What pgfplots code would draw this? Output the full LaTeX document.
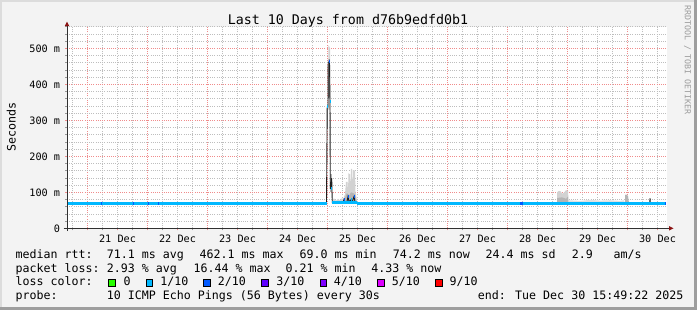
\documentclass[border=0pt]{standalone}
\usepackage{fontspec}
\setmainfont{DejaVu Sans Mono}
\usepackage{pgfplots}
\pgfplotsset{compat=1.18}
\definecolor{bgc}{HTML}{F3F3F3}
\definecolor{shadeA}{HTML}{DCDCDC}
\definecolor{shadeB}{HTML}{9E9E9E}
\definecolor{mgrid}{HTML}{F08C8C}
\definecolor{mingrid}{HTML}{BEBEBE}
\definecolor{l0}{HTML}{26FF00}
\definecolor{l1}{HTML}{00B8FF}
\definecolor{l2}{HTML}{0059FF}
\definecolor{l3}{HTML}{5E00FF}
\definecolor{l4}{HTML}{7E00FF}
\definecolor{l5}{HTML}{DD00FF}
\definecolor{l9}{HTML}{FF0000}
\definecolor{arrowc}{HTML}{8B1414}
\definecolor{axisc}{HTML}{303030}
\definecolor{smL}{HTML}{D2D2D2}
\definecolor{smM}{HTML}{B4B4B4}
\definecolor{smD}{HTML}{8C8C8C}
\definecolor{smX}{HTML}{E0E0E0}
\definecolor{wmark}{HTML}{9C9C9C}
\newcommand{\legf}{\fontsize{11.63bp}{14bp}\selectfont}
\newcommand{\axf}{\fontsize{10.2bp}{12bp}\selectfont}
\begin{document}
\begin{tikzpicture}[x=1bp,y=1bp]
\fill[bgc] (0,0) rectangle (697,310);
\fill[shadeA] (0,0) rectangle (2,310);
\fill[shadeA] (0,308) rectangle (697,310);
\fill[shadeB] (693.5,0) rectangle (697,310);
\fill[shadeB] (0,0) rectangle (697,3.3);
\useasboundingbox (0,0) rectangle (697,310);

\begin{axis}[
  at={(67bp,81.7bp)}, anchor=south west,
  scale only axis, width=600bp, height=201.6bp,
  xmin=0.6583, xmax=10.6583, ymin=0, ymax=560,
  axis x line*=bottom, axis y line*=left,
  axis line style={draw=none},
  axis background/.style={fill=white},
  xtick={1,2,3,4,5,6,7,8,9,10},
  xticklabels={},
  extra x ticks={1.5,2.5,3.5,4.5,5.5,6.5,7.5,8.5,9.5,10.5},
  extra x tick labels={21 Dec,22 Dec,23 Dec,24 Dec,25 Dec,26 Dec,27 Dec,28 Dec,29 Dec,30 Dec},
  extra x tick style={grid=none, tick style={draw=black!45, line width=0.8bp}},
  minor xtick={0.75,1.25,1.5,1.75,2.25,2.5,2.75,3.25,3.5,3.75,4.25,4.5,4.75,5.25,5.5,5.75,6.25,6.5,6.75,7.25,7.5,7.75,8.25,8.5,8.75,9.25,9.5,9.75,10.25,10.5},
  ytick={0,100,200,300,400,500},
  yticklabels={0,100 m,200 m,300 m,400 m,500 m},
  minor ytick={20,40,60,80,120,140,160,180,220,240,260,280,320,340,360,380,420,440,460,480,520,540,560},
  xmajorgrids=true, ymajorgrids=true, xminorgrids=true, yminorgrids=true,
  major grid style={mgrid, line width=0.9bp, dash pattern=on 1bp off 1.2bp},
  minor grid style={mingrid, line width=0.8bp, dash pattern=on 1bp off 1.2bp},
  tick align=outside, major tick length=2bp, minor tick length=2bp,
  major tick style={draw=mgrid, line width=0.8bp},
  minor tick style={draw=black!40, line width=0.8bp},
  xticklabel style={font=\axf, inner sep=0pt, anchor=north, yshift=-4.7bp},
  yticklabel style={font=\axf, inner sep=0pt, anchor=east, xshift=-4.7bp},
]
% ---- smoke ----
\addplot[fill=smM, draw=none] coordinates {(4.9917,280) (4.9917,345) (5.0083,345) (5.0083,280)} -- cycle;
\addplot[fill=smL, draw=none] coordinates {(5.0083,330) (5.0083,420) (5.0167,509) (5.0417,500) (5.0450,360) (5.0450,330)} -- cycle;
\addplot[fill=smD, draw=none] coordinates {(5.0117,360) (5.0200,470) (5.0383,470) (5.0417,360)} -- cycle;
\addplot[fill=smM, draw=none] coordinates {(5.0450,100) (5.0450,150) (5.0700,150) (5.0700,100)} -- cycle;
\addplot[fill=smL, draw=none] coordinates {(5.075,68) (5.075,78) (5.1083,83) (5.1417,76) (5.175,82) (5.2083,77) (5.2417,84) (5.2583,80) (5.2917,95) (5.3083,129) (5.3333,129) (5.3417,100) (5.35,153) (5.375,150) (5.3833,110) (5.3917,165) (5.4083,165) (5.4167,115) (5.425,162) (5.4583,160) (5.4667,100) (5.475,95) (5.4917,75) (5.4917,68)} -- cycle;
\addplot[fill=smM, draw=none] coordinates {(5.2583,68) (5.275,80) (5.2917,85) (5.325,98) (5.3583,90) (5.3917,100) (5.425,98) (5.4583,95) (5.4917,70) (5.4917,68)} -- cycle;
\addplot[fill=smL, draw=none] coordinates {(8.825,68) (8.825,100) (8.8583,104) (8.8917,102) (8.9083,96) (8.9417,99) (8.975,106) (9.0083,104) (9.0167,78) (9.0167,68)} -- cycle;
\addplot[fill=smM, draw=none] coordinates {(8.825,68) (8.825,84) (8.9083,86) (8.975,82) (9.0083,88) (9.0167,68)} -- cycle;
\addplot[fill=smX, draw=none] coordinates {(9.0167,68) (9.0167,78) (9.2083,76) (9.375,79) (9.5417,77) (9.7083,78) (9.875,76) (9.9417,78) (9.9583,68)} -- cycle;
\addplot[fill=smM, draw=none] coordinates {(9.9583,68) (9.9583,92) (9.975,94) (10.0083,90) (10.025,70) (10.025,68)} -- cycle;
% ---- median line ----
\addplot[color=black!88, line width=0.9bp] coordinates {
(0.66,69.3) (4.9833,69.3) (4.995,337) (5.0083,337) (5.0117,462) (5.0333,462)
(5.0417,352) (5.0467,111) (5.0583,111) (5.07,139) (5.08,71) (5.2583,71)
(5.275,80) (5.2917,72) (5.325,75) (5.3417,88) (5.3583,74) (5.3917,79)
(5.4083,72) (5.4417,88) (5.4583,73) (5.4917,69.3) (10.3717,69.3) (10.375,84) (10.3783,69.3) (10.6367,69.3)};
% ---- loss-coloured median bands ----
\addplot[l1, line width=3bp] coordinates {(0.66,69.3) (4.9917,69.3)};
\addplot[l1, line width=3bp] coordinates {(5.08,70.5) (5.4917,70.5)};
\addplot[l1, line width=3bp] coordinates {(5.4917,69.3) (10.6367,69.3)};
\addplot[l1, line width=3bp] coordinates {(4.9983,337) (5.0083,337)};
\addplot[l2, line width=3bp] coordinates {(5.0183,462) (5.0317,462)};
\addplot[l1, line width=3bp] coordinates {(5.0367,352) (5.0467,352)};
\addplot[l1, line width=3bp] coordinates {(5.0517,111) (5.0650,111)};
\addplot[l2, line width=3bp] coordinates {(5.2750,80) (5.2817,80)};
\addplot[l2, line width=3bp] coordinates {(5.3417,88) (5.3500,88)};
\addplot[l1, line width=3bp] coordinates {(5.3967,79) (5.4033,79)};
\addplot[l2, line width=3bp] coordinates {(5.4417,88) (5.4500,88)};
\addplot[l2, line width=3bp] coordinates {(8.2083,69.3) (8.2583,69.3)};
\addplot[l2, line width=3bp] coordinates {(1.2200,69.3) (1.2300,69.3)};
\addplot[l2, line width=3bp] coordinates {(1.7583,69.3) (1.7683,69.3)};
\addplot[l2, line width=3bp] coordinates {(2.0083,69.3) (2.0183,69.3)};
\addplot[l2, line width=3bp] coordinates {(2.1750,69.3) (2.1850,69.3)};
\addplot[l2, line width=3bp] coordinates {(10.6250,69.3) (10.6367,69.3)};
\end{axis}

% axes with arrows
\draw[axisc, line width=1bp] (63.5,81.7) -- (669.5,81.7);
\fill[arrowc] (669,79.5) -- (673.5,81.7) -- (669,83.9) -- cycle;
\draw[axisc, line width=1bp] (67,79) -- (67,284.5);
\fill[arrowc] (64.8,284) -- (67,288.4) -- (69.2,284) -- cycle;

% title, unit, watermark
\node[anchor=base, inner sep=0pt, font=\fontsize{13.3bp}{16bp}\selectfont] at (348,286) {Last 10 Days from d76b9edfd0b1};
\node[rotate=90, anchor=base, inner sep=0pt, font=\legf] at (15.5,183) {Seconds};
\node[rotate=-90, anchor=base, inner sep=0pt, font=\fontsize{8.3bp}{10bp}\selectfont, text=wmark] at (684.8,250) {RRDTOOL / TOBI OETIKER};

% legend rows
\begin{scope}[every node/.style={anchor=base west, inner sep=0pt, font=\legf}]
\node at (15.4,51.7) {median rtt:};
\node at (106.7,51.7) {71.1 ms avg};
\node at (199.4,51.7) {462.1 ms max};
\node at (299.4,51.7) {69.0 ms min};
\node at (392.7,51.7) {74.2 ms now};
\node at (485.4,51.7) {24.4 ms sd};
\node at (571.7,51.7) {2.9};
\node at (613.4,51.7) {am/s};
\node at (15.4,38) {packet loss:};
\node at (106.7,38) {2.93 \% avg};
\node at (193.4,38) {16.44 \% max};
\node at (285.4,38) {0.21 \% min};
\node at (371.1,38) {4.33 \% now};
\node at (15.4,24.3) {loss color:};
\node at (123.4,24.3) {0};
\node at (160.1,24.3) {1/10};
\node at (217.6,24.3) {2/10};
\node at (276.1,24.3) {3/10};
\node at (333.6,24.3) {4/10};
\node at (391.7,24.3) {5/10};
\node at (449.4,24.3) {9/10};
\node at (15.4,10.6) {probe:};
\node at (106.7,10.6) {10 ICMP Echo Pings (56 Bytes) every 30s};
\node at (477.7,10.6) {end: Tue Dec 30 15:49:22 2025};
\end{scope}
\begin{scope}[line width=0.8bp]
\filldraw[fill=l0, draw=black] (108.7,24) rectangle (115.3,30.7);
\filldraw[fill=l1, draw=black] (146.0,24) rectangle (152.6,30.7);
\filldraw[fill=l2, draw=black] (203.3,24) rectangle (209.9,30.7);
\filldraw[fill=l3, draw=black] (261.7,24) rectangle (268.3,30.7);
\filldraw[fill=l4, draw=black] (320.0,24) rectangle (326.6,30.7);
\filldraw[fill=l5, draw=black] (377.7,24) rectangle (384.3,30.7);
\filldraw[fill=l9, draw=black] (435.7,24) rectangle (442.3,30.7);
\end{scope}
\end{tikzpicture}
\end{document}
